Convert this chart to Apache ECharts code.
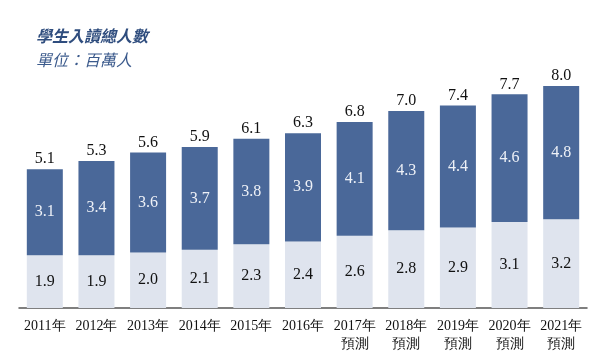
<!DOCTYPE html>
<html><head><meta charset="utf-8">
<script src="https://cdn.jsdelivr.net/npm/echarts@6/dist/echarts.min.js"></script>
<style>html,body{margin:0;padding:0;background:#fff}#c{width:616px;height:357px}</style>
</head><body><div id="c"></div>
<script>
const categories = ['2011年','2012年','2013年','2014年','2015年','2016年','2017年\n預測','2018年\n預測','2019年\n預測','2020年\n預測','2021年\n預測'];
const lowerValues = [1.9,1.9,2.0,2.1,2.3,2.4,2.6,2.8,2.9,3.1,3.2];
const upperValues = [3.1,3.4,3.6,3.7,3.8,3.9,4.1,4.3,4.4,4.6,4.8];
const totals = [5.1,5.3,5.6,5.9,6.1,6.3,6.8,7.0,7.4,7.7,8.0];

const serif = '"Liberation Serif","DejaVu Serif",serif';
const chart = echarts.init(document.getElementById('c'));
chart.setOption({
  animation:false,
  title:[
    {text:'學生入讀總人數',left:31,top:23,padding:5,textStyle:{fontSize:16,fontWeight:'bold',fontStyle:'italic',color:'#2f4d7e',fontFamily:'"Noto Sans CJK TC",sans-serif'}},
    {text:'單位：百萬人',left:31,top:47,padding:5,textStyle:{fontSize:16,fontWeight:'normal',fontStyle:'italic',color:'#3b5a8c',fontFamily:'"Noto Sans CJK TC",sans-serif'}}
  ],
  grid:{left:19,right:29,top:30.5,bottom:49},
  xAxis:{type:'category',data:categories,
    axisLine:{lineStyle:{color:'#555',width:1.5}},axisTick:{show:false},
    axisLabel:{color:'#111',fontSize:14,fontFamily:serif,margin:9,lineHeight:18,interval:0}},
  yAxis:{type:'value',min:0,max:10,show:false,splitLine:{show:false}},
  series:[
    {type:'bar',stack:'a',data:lowerValues,barWidth:36,
     itemStyle:{color:'#dfe4ee'},
     label:{show:true,position:'inside',color:'#111',fontSize:16,fontFamily:serif,formatter:p=>p.value.toFixed(1)}},
    {type:'bar',stack:'a',data:upperValues,barWidth:36,
     itemStyle:{color:'#4a6899'},
     label:{show:true,position:'inside',color:'#eef1f7',fontSize:16,fontFamily:serif,formatter:p=>p.value.toFixed(1)}},
    {type:'bar',stack:'a',data:upperValues.map(()=>0),barWidth:36,
     itemStyle:{color:'transparent'},
     label:{show:true,position:'top',distance:2,color:'#111',fontSize:16,fontFamily:serif,formatter:p=>totals[p.dataIndex].toFixed(1)}}
  ]
});
</script></body></html>
